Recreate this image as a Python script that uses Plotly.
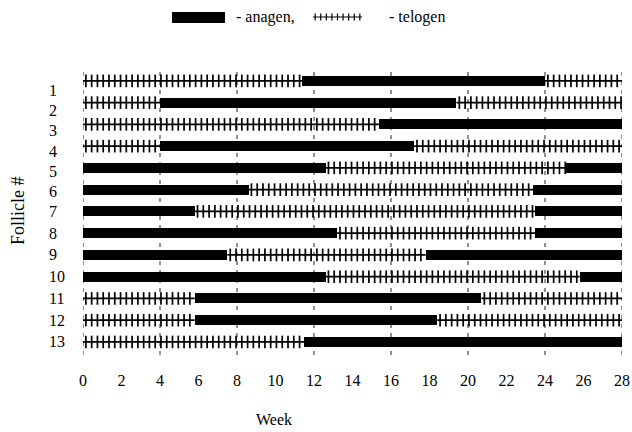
import numpy as np
import plotly.graph_objects as go

# ---- data ----
follicles = list(range(1, 14))
first_phase = ["telogen", "telogen", "telogen", "telogen", "anagen", "anagen", "anagen",
               "anagen", "anagen", "anagen", "telogen", "telogen", "telogen"]
switch_weeks = [
    [11.4, 24.0],
    [4.0, 19.4],
    [15.4],
    [4.0, 17.2],
    [12.6, 25.1],
    [8.6, 23.4],
    [5.8, 23.5],
    [13.2, 23.5],
    [7.5, 17.8],
    [12.6, 25.8],
    [5.8, 20.7],
    [5.8, 18.4],
    [11.5],
]
week_start, week_end = 0, 28
x_tick_vals = list(range(0, 29, 2))
grid_weeks = list(range(0, 29, 4))

FONT = "Liberation Serif, Times New Roman, serif"
tick_step = 0.3

# ---- build segments ----
an_y, an_base, an_len = [], [], []
tl_x, tl_y, tk_x, tk_y = [], [], [], []
for f, ph, sw in zip(follicles, first_phase, switch_weeks):
    bounds = [week_start] + sw + [week_end]
    phase = ph
    for s, e in zip(bounds[:-1], bounds[1:]):
        if phase == "anagen":
            an_y.append(f)
            an_base.append(s)
            an_len.append(e - s)
            phase = "telogen"
        else:
            tl_x += [s, e, None]
            tl_y += [f, f, None]
            ticks = np.arange(s + tick_step / 2, e, tick_step)
            tk_x += list(ticks)
            tk_y += [f] * len(ticks)
            phase = "anagen"

fig = go.Figure()
fig.add_trace(go.Scatter(x=tl_x, y=tl_y, mode="lines",
                         line=dict(color="black", width=1.8),
                         hoverinfo="skip", showlegend=False, cliponaxis=False))
fig.add_trace(go.Scatter(x=tk_x, y=tk_y, mode="markers",
                         marker=dict(symbol="line-ns", size=9,
                                     line=dict(color="black", width=1.7)),
                         hoverinfo="skip", showlegend=False, cliponaxis=False))
fig.add_trace(go.Bar(orientation="h", y=an_y, x=an_len, base=an_base,
                     width=0.46, marker=dict(color="black", line=dict(width=0)),
                     showlegend=False))

shapes = []
for g in grid_weeks:
    shapes.append(dict(type="line", xref="x", yref="paper", x0=g, x1=g, y0=0, y1=1,
                       line=dict(color="#222", width=1, dash="4px,5px"), layer="below"))

# custom legend (top)
shapes.append(dict(type="rect", xref="paper", yref="paper",
                   x0=0.1651, x1=0.2635, y0=1.165, y1=1.2035,
                   fillcolor="black", line=dict(width=0)))
lx0, lx1, ly = 0.4267, 0.5176, 1.186
shapes.append(dict(type="line", xref="paper", yref="paper",
                   x0=lx0, x1=lx1, y0=ly, y1=ly, line=dict(color="black", width=1.2)))
for k in range(9):
    xx = lx0 + 0.004 + k * (lx1 - lx0 - 0.008) / 8
    shapes.append(dict(type="line", xref="paper", yref="paper",
                       x0=xx, x1=xx, y0=ly - 0.012, y1=ly + 0.012,
                       line=dict(color="black", width=1.2)))

annotations = [
    dict(text="- anagen,", xref="paper", yref="paper", x=0.280, y=1.186,
         xanchor="left", yanchor="middle", showarrow=False,
         font=dict(family=FONT, size=16, color="black")),
    dict(text="- telogen", xref="paper", yref="paper", x=0.564, y=1.186,
         xanchor="left", yanchor="middle", showarrow=False,
         font=dict(family=FONT, size=16, color="black")),
    dict(text="Week", xref="paper", yref="paper", x=0.354, y=-0.228,
         xanchor="center", yanchor="middle", showarrow=False,
         font=dict(family=FONT, size=16, color="black")),
    dict(text="Follicle #", xref="paper", yref="paper", x=-0.1206, y=0.509,
         xanchor="center", yanchor="middle", showarrow=False, textangle=-90,
         font=dict(family=FONT, size=18, color="black")),
]
for i, f in enumerate(follicles):
    annotations.append(dict(text=str(f), xref="paper", yref="y", x=-0.0668, y=f,
                            xanchor="left", yanchor="middle", showarrow=False,
                            yshift=-max(0.0, 10 - 1.7 * i),
                            font=dict(family=FONT, size=16, color="black")))

fig.update_layout(
    width=632, height=432,
    margin=dict(l=83, r=10, t=70, b=77, autoexpand=False),
    paper_bgcolor="white", plot_bgcolor="white",
    bargap=0, barmode="overlay",
    font=dict(family=FONT, size=16, color="black"),
    xaxis=dict(range=[week_start, week_end], tickvals=x_tick_vals,
               ticktext=[str(v) for v in x_tick_vals], showgrid=False,
               zeroline=False, showline=False, ticks="", ticklabelstandoff=14,
               automargin=False,
               tickfont=dict(family=FONT, size=16, color="black")),
    yaxis=dict(range=[13.6, 0.5], showgrid=False, zeroline=False, automargin=False,
               showline=False, showticklabels=False, ticks=""),
    shapes=shapes, annotations=annotations,
)

# remove the browser's default 8px body margin so the figure fills the window
fig.write_html("out.html",
               config={"displayModeBar": False},
               post_script="document.body.style.margin='0px';"
                           "document.body.style.overflow='hidden';")
